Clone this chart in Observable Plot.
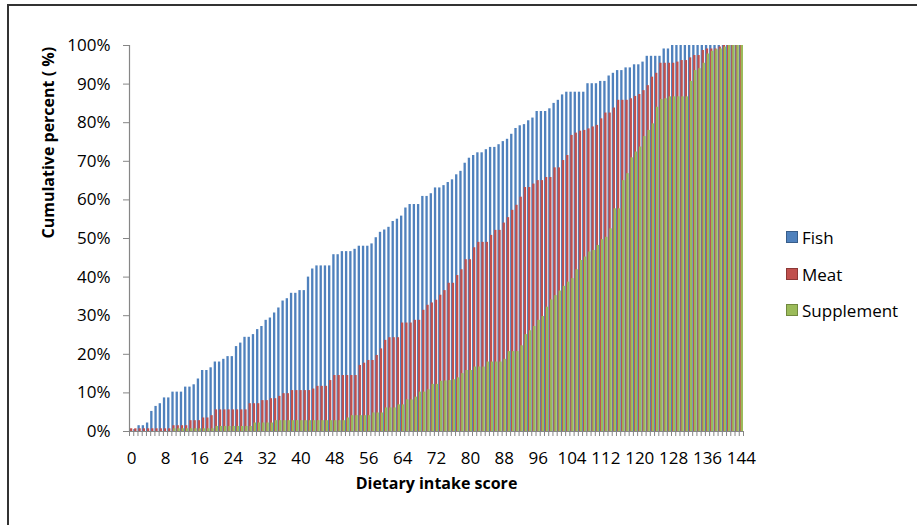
<!DOCTYPE html>
<html>
<head>
<meta charset="utf-8">
<script src="https://cdn.jsdelivr.net/npm/d3@7"></script>
<script src="https://cdn.jsdelivr.net/npm/@observablehq/plot@0.6"></script>
<style>
  html, body { margin: 0; padding: 0; background: #fff; }
  #wrap { position: relative; width: 917px; height: 525px; overflow: hidden; font-family: "Open Sans", sans-serif; }
  #border { position: absolute; left: 7px; top: 4px; width: 930px; height: 540px; border-top: 2px solid #333; border-left: 2px solid #333; }
  #chart { position: absolute; left: 0; top: 0; }
  #legend { position: absolute; left: 786px; top: 0; font-size: 17px; color: #000; }
  .item { position: absolute; left: 0; white-space: nowrap; display: flex; align-items: center; height: 24px; transform: translateY(-12px); }
  .sw { width: 10px; height: 10px; margin-right: 4px; border: 1px solid; }
</style>
</head>
<body>
<div id="wrap">
  <div id="border"></div>
  <div id="chart"></div>
  <div id="legend"></div>
</div>
<script>
// Categories: dietary intake score 0..144
const scores = d3.range(0, 145);
const xTickLabels = [0, 8, 16, 24, 32, 40, 48, 56, 64, 72, 80, 88, 96, 104, 112, 120, 128, 136, 144];
const yTicks = [0, 10, 20, 30, 40, 50, 60, 70, 80, 90, 100];

const seriesNames = ["Fish", "Meat", "Supplement"];
const seriesColors = ["#4F81BD", "#C0504D", "#9BBB59"];
const seriesBorders = ["#385D8A", "#8C3836", "#71893F"];

// Cumulative percent per score
const fish = [
  0.5, 0.5, 1.5, 1.5, 2.2, 5.2, 6.5, 7.2, 8.7, 8.7,
  10.2, 10.2, 10.2, 11.5, 11.5, 12.1, 13.6, 15.8, 15.8, 16.5,
  18.0, 18.0, 18.7, 19.4, 19.4, 22.0, 22.9, 24.4, 24.4, 25.1,
  26.4, 27.2, 28.8, 29.4, 30.7, 32.0, 33.8, 34.4, 35.8, 35.8,
  36.5, 36.5, 40.0, 42.1, 42.9, 42.9, 42.9, 42.9, 45.8, 45.8,
  46.6, 46.6, 46.6, 47.2, 48.0, 48.0, 48.0, 48.6, 50.2, 51.6,
  52.2, 52.9, 54.4, 55.0, 55.8, 57.9, 58.8, 58.8, 58.8, 60.9,
  60.9, 61.6, 63.1, 63.1, 63.7, 64.5, 65.2, 66.5, 67.4, 69.5,
  70.8, 71.5, 72.2, 72.2, 73.0, 73.6, 73.6, 74.3, 75.1, 75.7,
  77.0, 78.5, 79.2, 79.5, 80.5, 81.2, 82.9, 82.9, 82.9, 83.6,
  85.0, 85.8, 87.2, 87.9, 87.9, 87.9, 87.9, 87.9, 90.1, 90.1,
  90.1, 90.7, 90.7, 92.1, 92.8, 93.5, 93.5, 94.2, 94.2, 95.0,
  95.0, 95.7, 97.2, 97.2, 97.2, 97.2, 99.1, 99.1, 100, 100,
  100, 100, 100, 100, 100, 100, 100, 100, 100, 100,
  100, 100, 100, 100, 100
];
const meat = [
  0.7, 0.7, 0.7, 0.7, 0.7, 0.7, 0.7, 0.7, 0.7, 0.7,
  1.5, 1.5, 1.5, 1.5, 2.8, 2.8, 2.8, 3.5, 3.5, 4.1,
  5.6, 5.6, 5.6, 5.6, 5.6, 5.6, 5.6, 5.6, 7.2, 7.2,
  7.2, 8.0, 8.0, 8.5, 8.5, 9.1, 9.8, 9.8, 10.6, 10.6,
  10.6, 10.6, 10.6, 11.0, 11.7, 11.7, 11.7, 13.2, 14.5, 14.5,
  14.5, 14.5, 14.5, 14.5, 17.1, 17.7, 18.4, 18.4, 19.7, 21.4,
  23.6, 24.3, 24.3, 24.3, 28.1, 28.1, 28.1, 28.8, 28.8, 31.4,
  32.7, 33.3, 34.0, 35.3, 36.5, 38.4, 38.4, 40.4, 41.9, 44.5,
  44.5, 47.6, 49.0, 49.0, 49.0, 50.8, 52.1, 52.1, 54.0, 55.4,
  57.3, 58.6, 60.7, 63.2, 63.2, 64.1, 65.0, 65.0, 65.8, 65.8,
  68.3, 68.3, 70.2, 71.5, 76.7, 77.3, 77.8, 78.0, 78.4, 78.9,
  79.3, 81.0, 82.5, 82.5, 83.8, 85.8, 85.8, 85.8, 86.2, 86.8,
  87.3, 88.3, 89.6, 91.8, 92.8, 95.4, 95.4, 95.4, 95.4, 95.7,
  96.1, 96.1, 96.8, 97.4, 97.4, 98.7, 99.1, 99.1, 99.1, 99.6,
  100, 100, 100, 100, 100
];
const supplement = [
  0, 0, 0, 0, 0, 0, 0, 0, 0, 0,
  0.7, 0.7, 0.7, 0.7, 0.7, 0.7, 0.7, 0.7, 0.7, 0.7,
  1.3, 1.3, 1.3, 1.3, 1.3, 1.3, 1.3, 1.3, 1.3, 2.2,
  2.2, 2.2, 2.2, 2.2, 2.8, 2.8, 2.8, 2.8, 2.8, 2.8,
  2.8, 2.8, 2.8, 2.8, 2.8, 2.8, 2.8, 2.8, 2.8, 2.8,
  2.8, 3.5, 4.1, 4.1, 4.1, 4.1, 4.1, 4.8, 4.8, 4.8,
  6.1, 6.1, 6.1, 6.9, 6.9, 8.2, 8.2, 8.9, 10.2, 10.2,
  10.8, 12.2, 12.2, 13.0, 13.1, 13.2, 13.4, 13.9, 15.0, 15.8,
  15.8, 16.7, 16.7, 16.7, 18.0, 18.0, 18.0, 18.0, 18.7, 20.7,
  20.7, 20.7, 22.2, 25.1, 26.1, 27.2, 28.8, 29.8, 32.2, 34.1,
  35.2, 36.4, 37.6, 38.7, 39.6, 41.9, 44.3, 45.2, 46.5, 46.9,
  48.2, 49.7, 50.3, 52.5, 57.7, 57.7, 65.0, 66.8, 70.9, 72.4,
  73.7, 76.4, 78.0, 79.7, 84.0, 86.0, 86.2, 86.7, 86.7, 86.7,
  86.7, 86.7, 90.7, 93.5, 94.0, 95.4, 97.8, 98.5, 98.9, 99.1,
  99.6, 100, 100, 100, 100
];

const seriesValues = [fish, meat, supplement];
const W = 917, H = 525;
const mL = 129, mR = 174, mT = 45, mB = 94;
const bw = (W - mL - mR) / scores.length;
// overlapping clustered columns: each column is 55% of a band, shifted by 22.5%
const colW = 0.55, colStep = 0.225;

const rows = seriesNames.flatMap((name, k) =>
  scores.map((s, i) => ({score: s, series: name, k, value: seriesValues[k][i]})));

const grey = "#868686";

const chart = Plot.plot({
  width: W, height: H,
  marginLeft: mL, marginRight: mR, marginTop: mT, marginBottom: mB,
  style: {fontFamily: "'Open Sans', sans-serif", fontSize: "17px", color: "#000", background: "transparent", overflow: "visible"},
  x: {type: "band", domain: scores, padding: 0, axis: null},
  y: {domain: [0, 100], axis: null},
  color: {domain: seriesNames, range: seriesColors},
  marks: [
    ...seriesNames.map((name, k) => Plot.barY(rows.filter(d => d.k === k), {
      x: "score", y: "value", fill: "series",
      insetLeft: k * colStep * bw,
      insetRight: (1 - colW - k * colStep) * bw
    })),
    Plot.ruleY([0], {stroke: grey, strokeWidth: 1.2}),
    Plot.ruleX([scores[0]], {dx: -bw / 2, stroke: grey, strokeWidth: 1.2}),
    Plot.axisY({ticks: yTicks, tickFormat: d => d + "%", tickSize: 6, tickPadding: 13, stroke: grey, fill: "#000", fontSize: 17, label: null}),
    Plot.axisX({ticks: scores, tickFormat: () => "", tickSize: 5, dx: -bw / 2, stroke: grey, label: null}),
    Plot.axisX({ticks: [scores[scores.length - 1]], tickFormat: () => "", tickSize: 5, dx: bw / 2, stroke: grey, label: null}),
    Plot.axisX({ticks: xTickLabels, tickSize: 0, tickPadding: 20, fill: "#000", fontSize: 17, label: null}),
    Plot.text(["Dietary intake score"], {frameAnchor: "bottom", dy: 57, fontWeight: "bold", fontSize: 16, fill: "#000"}),
    Plot.text(["Cumulative percent ( %)"], {frameAnchor: "left", dx: -81, rotate: -90, fontWeight: "bold", fontSize: 16, fill: "#000"})
  ]
});
document.getElementById("chart").appendChild(chart);

const legendY = [237, 274, 310];
const legend = document.getElementById("legend");
seriesNames.forEach((name, k) => {
  const item = document.createElement("div");
  item.className = "item";
  item.style.top = legendY[k] + "px";
  const sw = document.createElement("span");
  sw.className = "sw";
  sw.style.background = seriesColors[k];
  sw.style.borderColor = seriesBorders[k];
  const label = document.createElement("span");
  label.textContent = name;
  item.appendChild(sw);
  item.appendChild(label);
  legend.appendChild(item);
});
</script>
</body>
</html>
